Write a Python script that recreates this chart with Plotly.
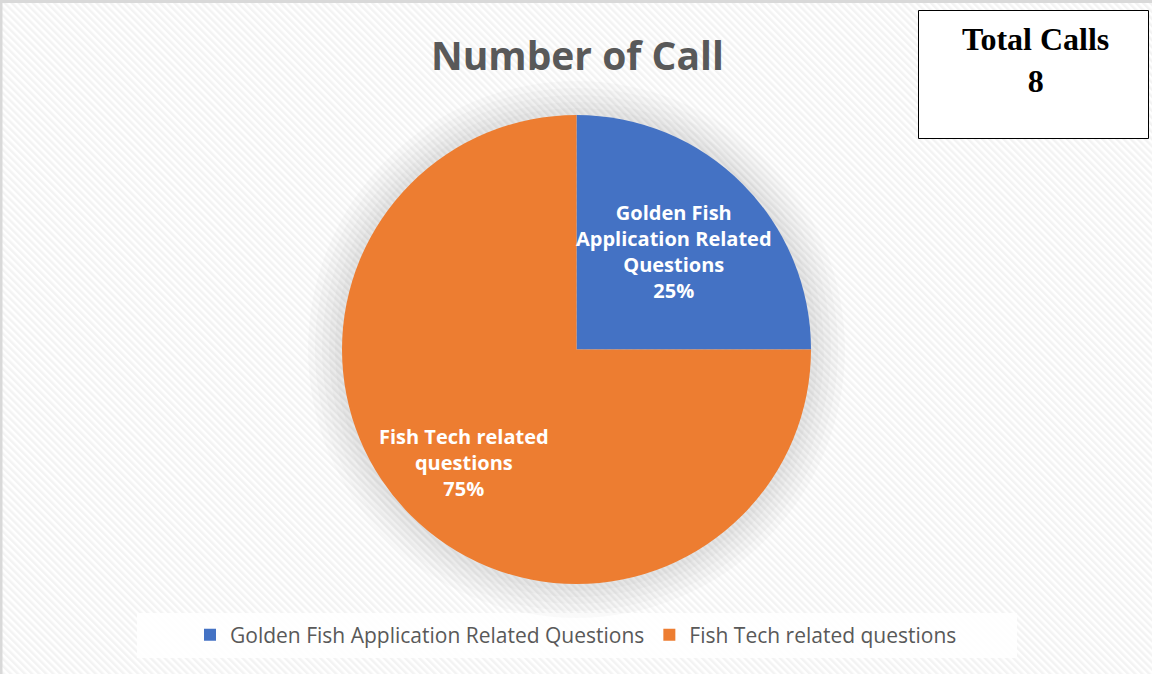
import base64
import math
import plotly.graph_objects as go

categories = ["Golden Fish Application Related Questions", "Fish Tech related questions"]
label_text = ["Golden Fish<br>Application Related<br>Questions", "Fish Tech related<br>questions"]
calls = [2, 6]
colors = ["#4472C4", "#ED7D31"]
label_radius = [0.59, 0.68]   # fraction of radius where Excel placed each label
total_calls = sum(calls)

W, H = 1152, 674

# subtle diagonal hatch background
svg = (
    f'<svg xmlns="http://www.w3.org/2000/svg" width="{W}" height="{H}">'
    '<defs><pattern id="p" width="5" height="5" patternUnits="userSpaceOnUse" '
    'patternTransform="rotate(-45)">'
    '<rect width="5" height="5" fill="#ffffff"/>'
    '<rect width="2.5" height="5" fill="#f3f3f3"/></pattern></defs>'
    f'<rect width="{W}" height="{H}" fill="url(#p)"/></svg>'
)
bg_uri = "data:image/svg+xml;base64," + base64.b64encode(svg.encode()).decode()

cx_px, cy_px, r = 576.5, 349.5, 234.5
cx, cy = cx_px / W, 1 - cy_px / H


def dom(rad):
    return dict(x=[cx - rad / W, cx + rad / W], y=[cy - rad / H, cy + rad / H])


fig = go.Figure()

# soft shadow layers
for i, extra in enumerate([34, 27, 20, 13, 7]):
    fig.add_trace(go.Pie(
        labels=[f"shadow{i}"], values=[1], domain=dom(r + extra),
        marker=dict(colors=["rgba(0,0,0,0.02)"], line=dict(width=0)),
        textinfo="none", hoverinfo="skip", showlegend=False, sort=False,
    ))

fig.add_trace(go.Pie(
    labels=categories, values=calls, domain=dom(r),
    marker=dict(colors=colors, line=dict(width=0)),
    sort=False, direction="clockwise", rotation=0,
    textinfo="none",
    showlegend=True,
))

# data labels placed on each slice's bisector (computed from the values)
annotations = []
cum = 0
for lab, v, fr in zip(label_text, calls, label_radius):
    mid = (cum + v / 2) / total_calls * 2 * math.pi
    cum += v
    dx = math.sin(mid) * r * fr
    dy = math.cos(mid) * r * fr
    pct = round(100 * v / total_calls)
    annotations.append(dict(
        text=f"<b>{lab}<br>{pct}%</b>", xref="paper", yref="paper",
        x=(cx_px + dx) / W, y=1 - (cy_px - dy) / H,
        xanchor="center", yanchor="middle", showarrow=False,
        font=dict(family="Open Sans", size=20, color="white")))

annotations += [
    dict(text="<b>Number of Call</b>", xref="paper", yref="paper", x=577 / W, y=1 - 55 / H,
         xanchor="center", yanchor="middle", showarrow=False,
         font=dict(family="Open Sans", size=39, color="#595959")),
    dict(text=f"<b>Total Calls<br>{total_calls}</b>", xref="paper", yref="paper",
         x=1035 / W, y=1 - 60 / H, xanchor="center", yanchor="middle", showarrow=False,
         font=dict(family="Liberation Serif", size=32, color="black")),
]

fig.update_layout(
    width=W, height=H,
    margin=dict(l=0, r=0, t=0, b=0),
    paper_bgcolor="#ffffff",
    images=[dict(source=bg_uri, xref="paper", yref="paper", x=0, y=1,
                 sizex=1, sizey=1, sizing="stretch", layer="below")],
    showlegend=True,
    legend=dict(orientation="h", x=0.5, xanchor="center", y=1 - 635 / H, yanchor="middle",
                font=dict(family="Open Sans", size=21, color="#595959"),
                bgcolor="rgba(0,0,0,0)", itemwidth=30, tracegroupgap=0),
    shapes=[
        dict(type="rect", xref="paper", yref="paper", x0=137 / W, x1=1017 / W,
             y0=1 - 658 / H, y1=1 - 613 / H, fillcolor="rgba(255,255,255,0.85)",
             line=dict(width=0), layer="below"),
        dict(type="line", xref="paper", yref="paper", x0=1 / W, x1=1 / W,
             y0=0, y1=1, line=dict(color="#d9d9d9", width=3)),
        dict(type="line", xref="paper", yref="paper", x0=0, x1=1,
             y0=1 - 1.5 / H, y1=1 - 1.5 / H, line=dict(color="#d9d9d9", width=3)),
        dict(type="rect", xref="paper", yref="paper", x0=918.5 / W, x1=1148.5 / W,
             y0=1 - 138.5 / H, y1=1 - 10.5 / H, fillcolor="white",
             line=dict(color="black", width=1)),
    ],
    annotations=annotations,
)

fig.write_html("out.html", config={"displayModeBar": False},
               post_script="document.body.style.margin='0';")
